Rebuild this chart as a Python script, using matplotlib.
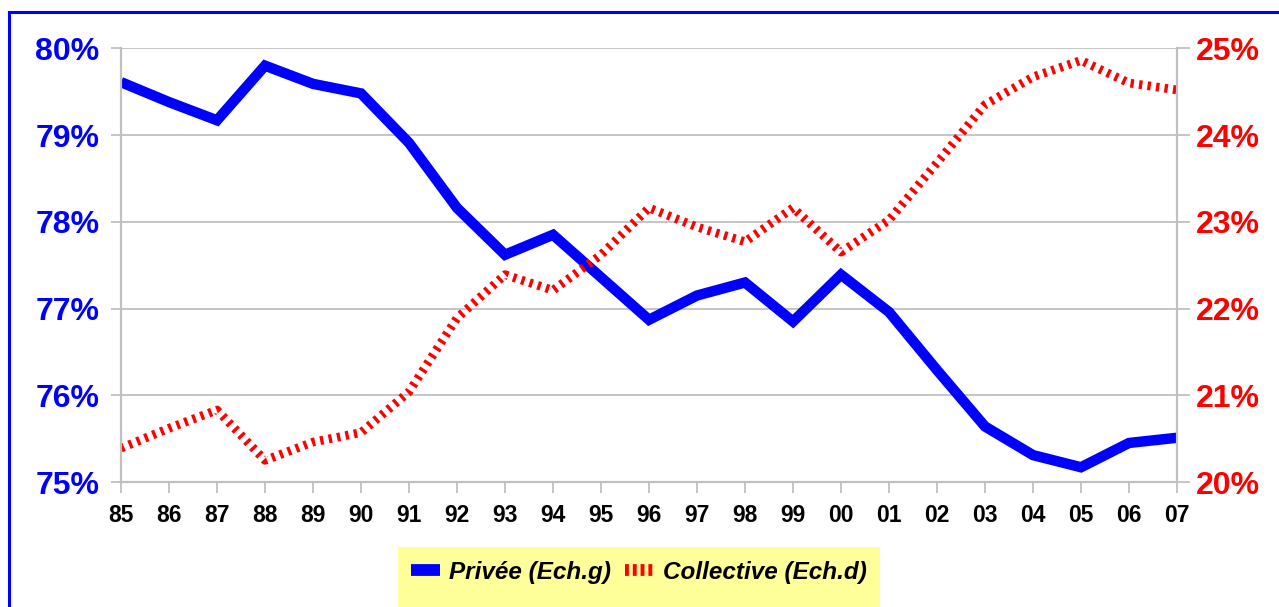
import matplotlib
matplotlib.use("Agg")
import matplotlib.pyplot as plt
from matplotlib.lines import Line2D
from matplotlib.patches import Rectangle

plt.rcParams['font.family'] = ['Liberation Sans', 'DejaVu Sans']

years = ['85', '86', '87', '88', '89', '90', '91', '92', '93', '94', '95', '96',
         '97', '98', '99', '00', '01', '02', '03', '04', '05', '06', '07']
privee = [79.61, 79.38, 79.17, 79.80, 79.59, 79.48, 78.91, 78.16, 77.62, 77.85,
          77.36, 76.87, 77.15, 77.30, 76.85, 77.39, 76.96, 76.29, 75.64, 75.31,
          75.17, 75.45, 75.51]
collective = [20.39, 20.62, 20.83, 20.25, 20.46, 20.57, 21.04, 21.89, 22.39, 22.21,
              22.62, 23.16, 22.94, 22.77, 23.16, 22.65, 23.02, 23.68, 24.35, 24.67,
              24.86, 24.60, 24.52]
left_ticks = [75, 76, 77, 78, 79, 80]
right_ticks = [20, 21, 22, 23, 24, 25]

BLUE = '#0000FF'
RED = '#FF0000'
GRID = '#C0C0C0'

fig = plt.figure(figsize=(12.79, 6.07), dpi=100)
ax = fig.add_axes([121 / 1279, 1 - 482 / 607, (1177 - 121) / 1279, (482 - 48.3) / 607])
ax2 = ax.twinx()

x = list(range(len(years)))
ax.plot(x, privee, color=BLUE, lw=7.5, solid_joinstyle='miter', solid_capstyle='butt')
ax2.plot(x, collective, color=RED, lw=6.3, linestyle=(0, (0.38, 0.6)),
         dash_capstyle='butt')

ax.set_xlim(0, len(years) - 1)
ax.set_ylim(75, 80)
ax2.set_ylim(20, 25)
ax.set_xticks(x)
ax.set_xticklabels(years)
ax.set_yticks(left_ticks)
ax.set_yticklabels([f'{v}%' for v in left_ticks])
ax2.set_yticks(right_ticks)
ax2.set_yticklabels([f'{v}%' for v in right_ticks])

ax.grid(axis='y', color=GRID, lw=1.3)
ax.set_axisbelow(True)
for a in (ax, ax2):
    for s in a.spines.values():
        s.set_color(GRID)
        s.set_linewidth(1.5)
    a.spines['top'].set_visible(False)

ax.tick_params(axis='y', colors=GRID, labelcolor=BLUE, length=7.5, width=1.3,
               labelsize=23, pad=8)
ax2.tick_params(axis='y', colors=GRID, labelcolor=RED, length=9, width=1.3,
                labelsize=23, pad=4.5)
ax.tick_params(axis='x', colors=GRID, labelcolor='black', length=8, width=1.3,
               labelsize=16.5, pad=8)
for lab in ax.get_yticklabels() + ax2.get_yticklabels() + ax.get_xticklabels():
    lab.set_fontweight('bold')

# blue frame around the chart area
fig.add_artist(Line2D([8.5 / 1279, 8.5 / 1279], [0, 1 - 11.5 / 607],
                      transform=fig.transFigure, color=BLUE, lw=2.2,
                      solid_capstyle='projecting'))
fig.add_artist(Line2D([8.5 / 1279, 1], [1 - 11.5 / 607, 1 - 11.5 / 607],
                      transform=fig.transFigure, color=BLUE, lw=2.2,
                      solid_capstyle='projecting'))

# legend background
fig.add_artist(Rectangle((398 / 1279, 0), (880 - 398) / 1279, (607 - 547) / 607,
                         transform=fig.transFigure, facecolor='#FFFF99',
                         edgecolor='none'))
handles = [Line2D([], [], color=BLUE, lw=8.5, solid_capstyle='butt'),
           Line2D([], [], color=RED, lw=8.5, linestyle=(0, (0.33, 0.33)),
                  dash_capstyle='butt')]
fig.legend(handles, ['Privée (Ech.g)', 'Collective (Ech.d)'], loc='center',
           bbox_to_anchor=(639 / 1279, 1 - 572 / 607), ncol=2, frameon=False,
           prop={'weight': 'bold', 'style': 'italic', 'size': 17.5},
           handlelength=1.2, handletextpad=0.35, columnspacing=0.6)

fig.savefig('out.png', dpi=100)
